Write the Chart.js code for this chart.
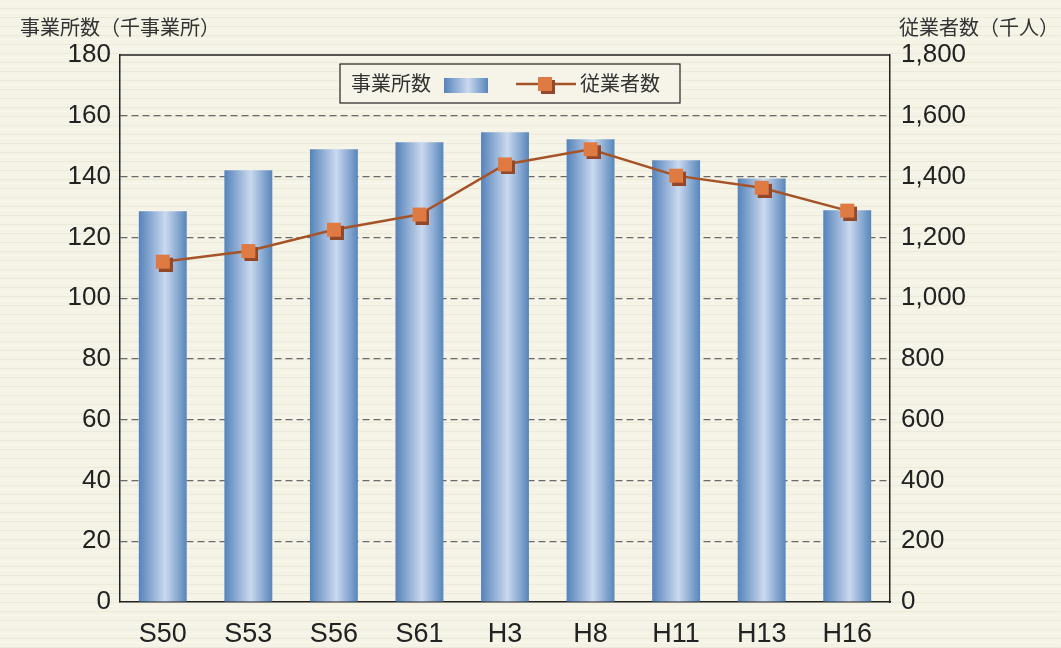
<!DOCTYPE html>
<html>
<head>
<meta charset="utf-8">
<script src="https://cdn.jsdelivr.net/npm/chart.js@4"></script>
<style>
  html, body { margin: 0; padding: 0; }
  body {
    width: 1061px; height: 648px; overflow: hidden;
    background-color: #f5f3e6;
    background-image:
      repeating-linear-gradient(0deg, rgba(205,200,175,0.22) 0px, rgba(205,200,175,0.22) 1px, transparent 1px, transparent 5px, rgba(255,255,252,0.35) 5px, rgba(255,255,252,0.35) 6px, transparent 6px, transparent 9px);
  }
  canvas { display: block; }
</style>
</head>
<body>
<canvas id="chart" width="1061" height="648"></canvas>
<script>
const categories = ["S50", "S53", "S56", "S61", "H3", "H8", "H11", "H13", "H16"]
const establishments = [128.6, 142.1, 149.0, 151.3, 154.6, 152.3, 145.4, 139.4, 128.9]
const employees = [1120, 1155, 1225, 1275, 1440, 1490, 1403, 1363, 1288]
const leftTicks = [0, 20, 40, 60, 80, 100, 120, 140, 160, 180]
const rightTicks = [0, 200, 400, 600, 800, 1000, 1200, 1400, 1600, 1800]

const tickFont = { family: "'Liberation Sans', Arial, sans-serif", size: 26 }
const jpFont = "'Noto Sans CJK JP', 'Noto Sans', sans-serif"
const barPct = 0.56

// square marker with a dark drop shadow
function makeMarker() {
  const c = document.createElement("canvas")
  c.width = 20
  c.height = 20
  const g = c.getContext("2d")
  g.fillStyle = "#94482a"
  g.fillRect(6, 6, 14, 14)
  g.fillStyle = "#e07a43"
  g.fillRect(3, 3, 14, 14)
  return c
}
const marker = makeMarker()

function barGradient(ctx, x0, x1) {
  const gr = ctx.createLinearGradient(x0, 0, x1, 0)
  gr.addColorStop(0, "#5583bb")
  gr.addColorStop(0.55, "#cad9ef")
  gr.addColorStop(1, "#5786bb")
  return gr
}

const decorPlugin = {
  id: "decor",
  afterDatasetsDraw(chart) {
    const { ctx, chartArea: a } = chart
    ctx.save()
    // top border of the plot box
    ctx.strokeStyle = "#222"
    ctx.lineWidth = 1.5
    ctx.beginPath()
    ctx.moveTo(a.left, a.top)
    ctx.lineTo(a.right, a.top)
    ctx.stroke()

    // axis titles
    ctx.fillStyle = "#333"
    ctx.font = "20px " + jpFont
    ctx.textBaseline = "middle"
    ctx.textAlign = "left"
    ctx.fillText("事業所数（千事業所）", 20, 27)
    ctx.textAlign = "right"
    ctx.fillText("従業者数（千人）", 1059, 27)

    // legend box
    const lx = 340, ly = 64, lw = 340, lh = 39
    ctx.fillStyle = "rgba(246,244,232,0.9)"
    ctx.fillRect(lx, ly, lw, lh)
    ctx.strokeStyle = "#222"
    ctx.lineWidth = 1.2
    ctx.strokeRect(lx, ly, lw, lh)
    ctx.fillStyle = "#333"
    ctx.font = "20px " + jpFont
    ctx.textAlign = "left"
    ctx.fillText("事業所数", 351, ly + lh / 2)
    ctx.fillStyle = barGradient(ctx, 444, 488)
    ctx.fillRect(444, 78, 44, 15)
    ctx.strokeStyle = "#a5542a"
    ctx.lineWidth = 2.5
    ctx.beginPath()
    ctx.moveTo(516, 84)
    ctx.lineTo(576, 84)
    ctx.stroke()
    ctx.drawImage(marker, 545 - 10, 84 - 10)
    ctx.fillStyle = "#333"
    ctx.fillText("従業者数", 580, ly + lh / 2)
    ctx.restore()
  }
}

new Chart(document.getElementById("chart"), {
  type: "bar",
  data: {
    labels: categories,
    datasets: [
      {
        type: "line",
        label: "従業者数",
        data: employees,
        yAxisID: "y1",
        order: 0,
        borderColor: "#a5542a",
        borderWidth: 2.5,
        pointStyle: marker,
        pointRadius: 10,
        tension: 0,
      },
      {
        label: "事業所数",
        data: establishments,
        yAxisID: "y",
        order: 1,
        categoryPercentage: 1,
        barPercentage: barPct,
        backgroundColor: c => {
          const chart = c.chart
          if (!chart.chartArea || c.dataIndex === undefined) return "#7fa2cc"
          const x = chart.scales.x.getPixelForValue(c.dataIndex)
          const w = (chart.chartArea.width / categories.length) * barPct
          return barGradient(chart.ctx, x - w / 2, x + w / 2)
        },
      },
    ],
  },
  options: {
    responsive: false,
    animation: false,
    layout: { padding: { top: 55, left: 0, right: 0, bottom: 0 } },
    plugins: { legend: { display: false }, tooltip: { enabled: false } },
    scales: {
      x: {
        grid: { display: false },
        border: { color: "#222", width: 1.5 },
        ticks: { color: "#222", font: { ...tickFont, size: 27 }, padding: 8 },
        afterFit: s => { s.height = 46 },
      },
      y: {
        position: "left",
        min: 0,
        max: 180,
        afterBuildTicks: s => { s.ticks = leftTicks.map(v => ({ value: v })) },
        grid: {
          drawTicks: false,
          color: c => (c.tick && (c.tick.value === 0 || c.tick.value === 180) ? "transparent" : "#6a6a6a"),
          lineWidth: 1.2,
        },
        border: { color: "#222", width: 1.5, dash: [7, 4] },
        ticks: { color: "#222", font: tickFont, padding: 9 },
        afterFit: s => { s.width = 120 },
      },
      y1: {
        position: "right",
        min: 0,
        max: 1800,
        afterBuildTicks: s => { s.ticks = rightTicks.map(v => ({ value: v })) },
        grid: { display: false },
        border: { color: "#222", width: 1.5 },
        ticks: {
          color: "#222",
          font: tickFont,
          padding: 3,
          callback: v => v.toLocaleString("en-US"),
        },
        afterFit: s => { s.width = 171 },
      },
    },
  },
  plugins: [decorPlugin],
})
</script>
</body>
</html>
